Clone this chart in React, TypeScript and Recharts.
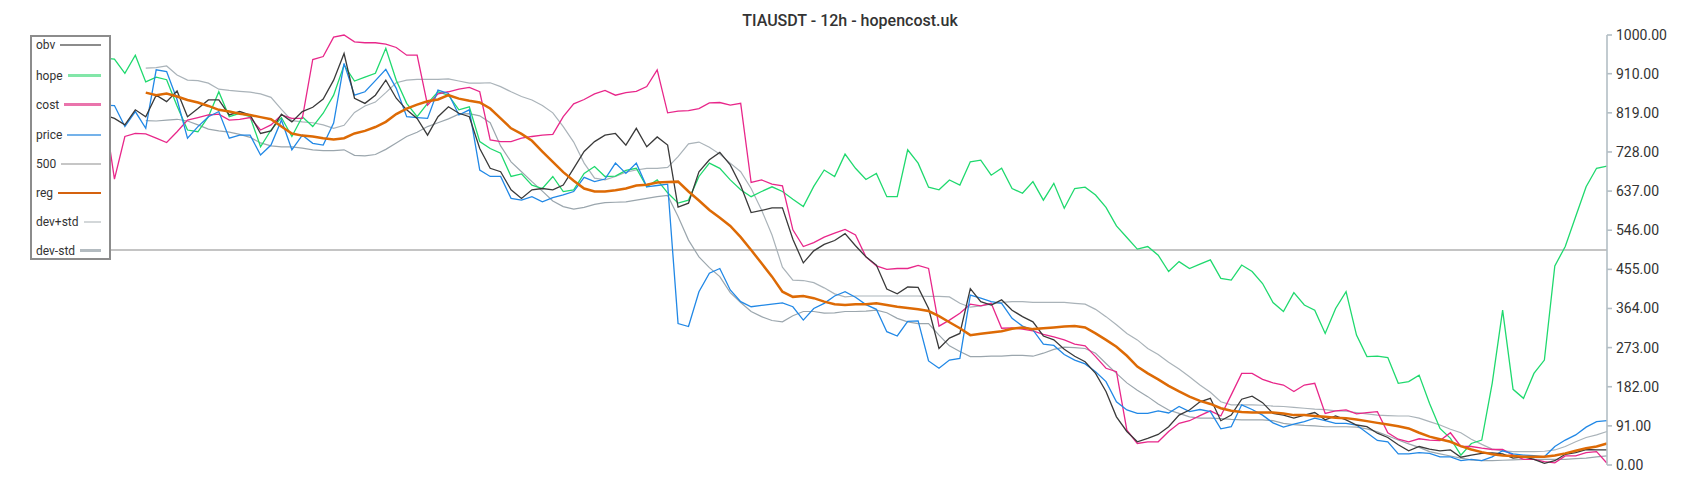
import React from "react";
import { LineChart, Line, XAxis, YAxis, ReferenceLine } from "recharts";

const TITLE = "TIAUSDT - 12h - hopencost.uk";
const LEVEL = 500;
const yTicks = [0, 91, 182, 273, 364, 455, 546, 637, 728, 819, 910, 1000];

const obv = [814,806,791,826,810,860,845,870,810,829,
849,849,814,822,814,771,777,816,798,822,
832,851,895,957,853,841,860,895,853,826,
806,767,810,833,818,810,736,690,682,640,
620,640,643,640,651,690,729,752,767,771,
744,783,740,763,744,600,609,682,710,727,
698,650,587,592,598,598,525,470,498,513,
522,538,510,484,465,409,398,414,413,364,
271,295,306,410,380,372,384,360,345,333,
300,291,269,253,240,213,171,112,78,54,
62,71,89,116,128,147,155,103,116,153,
160,145,120,116,109,116,122,105,114,105,
93,89,74,64,47,33,43,37,33,35,
18,23,27,28,26,16,19,13,4,10,
25,29,36,35,35];

const hope = [946,944,911,953,891,902,896,835,779,775,
810,868,810,818,810,740,779,808,764,810,
787,818,860,930,893,902,911,969,895,841,
810,841,868,860,826,833,752,736,725,671,
677,651,643,671,636,640,678,694,671,672,
685,690,647,663,633,609,616,671,702,690,
663,640,624,636,647,636,618,601,648,686,
671,723,690,664,678,624,624,733,702,646,
640,663,651,705,709,674,690,643,632,659,
616,655,597,643,646,628,599,556,529,502,
508,488,450,473,457,467,477,434,430,465,
450,422,378,357,401,372,360,306,364,403,
302,252,253,250,190,194,209,143,85,62,
23,50,58,190,360,176,155,213,244,463,
508,578,647,690,695];

const cost = [830,665,764,771,770,760,750,775,802,808,
814,816,802,804,808,779,791,814,806,806,
943,950,995,1000,984,982,982,979,971,953,
953,837,863,868,874,878,868,756,752,752,
760,764,767,769,810,840,850,863,871,860,
866,869,880,919,819,823,824,829,842,843,
837,841,657,663,653,649,547,508,517,530,
539,548,535,484,463,455,457,457,464,457,
323,337,353,374,370,376,318,319,316,312,
304,298,291,281,277,252,225,217,81,50,
54,54,78,97,103,115,126,114,163,213,
213,199,191,186,171,186,190,120,126,128,
119,122,124,75,60,54,61,58,57,75,
43,43,39,36,36,23,13,13,8,5,
21,21,29,31,4];

const price = [837,836,787,822,783,919,915,850,760,787,
810,822,760,767,767,721,744,802,733,767,
748,744,795,934,860,868,894,920,876,810,
808,806,872,864,814,826,686,671,671,620,
616,624,612,622,628,636,669,659,665,702,
678,702,647,650,653,329,322,403,446,457,
407,380,368,371,374,377,368,337,364,376,
393,403,390,373,362,310,300,334,335,242,
225,244,248,395,388,380,376,341,323,314,
281,278,257,244,235,217,194,147,128,120,
120,126,121,136,124,129,124,84,89,140,
129,116,98,88,95,101,109,103,97,97,
93,75,57,54,26,26,29,27,19,19,
10,13,10,19,33,26,23,22,19,43,
58,70,88,101,103];

const reg = [null,null,null,null,866,860,864,857,849,843,
835,826,822,817,814,809,804,787,771,766,
764,760,757,760,771,777,786,798,816,829,
838,846,850,860,852,847,843,829,806,783,
770,754,729,705,681,661,643,636,636,639,
643,650,652,657,658,659,636,615,593,575,
556,530,500,469,438,403,391,393,388,380,
374,372,374,374,376,372,368,365,362,358,
346,332,318,302,305,308,311,317,320,316,
318,320,322,323,320,306,291,275,254,229,
213,199,184,171,159,149,142,132,126,123,
122,122,122,120,116,116,114,112,110,109,
106,102,98,94,90,85,75,66,60,54,
44,36,30,25,22,21,19,19,19,22,
27,33,39,43,50];

const devPlus = [null,null,null,null,923,924,928,907,895,894,
888,874,871,869,867,863,855,827,801,798,
796,791,783,790,820,835,844,866,889,895,
897,897,897,898,893,888,888,889,880,868,
857,849,836,819,787,751,702,667,663,671,
681,686,690,690,692,717,747,751,739,723,
702,682,643,593,535,460,430,429,424,412,
398,391,393,393,393,393,393,393,393,392,
392,391,376,367,370,374,378,380,380,378,
378,378,378,376,374,362,345,326,306,291,
271,257,239,223,205,186,169,147,140,140,
140,139,137,136,134,132,130,129,126,125,
122,119,116,115,114,114,109,101,93,83,
75,60,48,37,33,31,31,31,32,35,
43,54,64,70,78];

const devMinus = [null,null,null,null,801,800,802,804,800,791,
781,777,774,769,762,749,742,740,740,737,
733,731,731,733,720,719,722,734,749,764,
774,787,796,805,816,817,812,796,742,705,
682,659,637,614,601,595,599,606,610,611,
612,616,620,624,627,578,523,484,459,438,
401,378,357,345,336,333,347,357,357,353,
354,357,357,358,360,354,341,333,329,329,
302,277,264,252,252,253,253,255,255,253,
260,269,274,273,271,260,236,213,191,174,
159,142,128,120,112,109,109,108,106,105,
105,105,103,97,94,92,91,89,89,89,
88,84,77,68,58,49,41,31,26,21,
16,12,10,10,11,12,13,13,13,13,
13,15,16,19,21];

const xIndex = obv.map((_, i) => i);

const data = xIndex.map((i) => ({
  i,
  obv: obv[i],
  hope: hope[i],
  cost: cost[i],
  price: price[i],
  reg: reg[i],
  devPlus: devPlus[i],
  devMinus: devMinus[i],
}));

const FONT = "Roboto, 'Noto Sans', sans-serif";

const legendItems = [
  { name: "obv", color: "#8c8c8c", top: 1 },
  { name: "hope", color: "#82e6a8", top: 31.7 },
  { name: "cost", color: "#ea74ac", top: 60.5 },
  { name: "price", color: "#74b2ea", top: 91 },
  { name: "500", color: "#c6c6c6", top: 120 },
  { name: "reg", color: "#d5620e", top: 149 },
  { name: "dev+std", color: "#d3d7d9", top: 178 },
  { name: "dev-std", color: "#b3bbc0", top: 206.7 },
];

export default function App() {
  return (
    <div style={{ position: "absolute", left: 0, top: 0, width: 1700, height: 500, background: "#fff", fontFamily: FONT }}>
      <div
        style={{
          position: "absolute",
          left: 0,
          top: 11,
          width: 1700,
          textAlign: "center",
          fontSize: 16,
          lineHeight: "20px",
          fontWeight: 500,
          color: "#333",
          fontFamily: FONT,
        }}
      >
        {TITLE}
      </div>
      <LineChart
        width={1700}
        height={500}
        data={data}
        margin={{ top: 35, right: 13, bottom: 35, left: 104 }}
      >
        <XAxis type="number" dataKey="i" domain={[0, 144]} hide />
        <YAxis
          orientation="right"
          domain={[0, 1000]}
          ticks={yTicks}
          interval={0}
          width={80}
          tickFormatter={(v: number) => v.toFixed(2)}
          axisLine={{ stroke: "#b3bec5", strokeWidth: 1.6 }}
          tickLine={{ stroke: "#b3bec5", strokeWidth: 1.6 }}
          tickSize={5}
          tickMargin={4}
          tick={{ fill: "#333", fontSize: 14, fontFamily: FONT }}
        />
        <ReferenceLine y={LEVEL} stroke="#c4c4c4" strokeWidth={2} />
        <Line type="linear" dataKey="devMinus" stroke="#9ba6ad" strokeWidth={1.2} dot={false} activeDot={false} isAnimationActive={false} />
        <Line type="linear" dataKey="devPlus" stroke="#aab3b9" strokeWidth={1.2} dot={false} activeDot={false} isAnimationActive={false} />
        <Line type="linear" dataKey="hope" stroke="#1fd96e" strokeWidth={1.3} dot={false} activeDot={false} isAnimationActive={false} />
        <Line type="linear" dataKey="cost" stroke="#e8278a" strokeWidth={1.3} dot={false} activeDot={false} isAnimationActive={false} />
        <Line type="linear" dataKey="price" stroke="#2188e6" strokeWidth={1.3} dot={false} activeDot={false} isAnimationActive={false} />
        <Line type="linear" dataKey="obv" stroke="#3a3a3a" strokeWidth={1.3} dot={false} activeDot={false} isAnimationActive={false} />
        <Line type="linear" dataKey="reg" stroke="#dd6a05" strokeWidth={2.5} dot={false} activeDot={false} isAnimationActive={false} />
      </LineChart>
      <div
        style={{
          position: "absolute",
          left: 30,
          top: 35,
          width: 81,
          height: 225,
          boxSizing: "border-box",
          border: "2px solid #8c8c8c",
          background: "#fff",
        }}
      >
        {legendItems.map((it) => (
          <div
            key={it.name}
            style={{
              position: "absolute",
              left: 4,
              top: it.top,
              width: 65,
              height: 14,
              display: "flex",
              alignItems: "center",
            }}
          >
            <span style={{ fontSize: 12, color: "#333", fontFamily: FONT, lineHeight: "14px", whiteSpace: "nowrap" }}>{it.name}</span>
            <span style={{ flex: 1, marginLeft: 5, height: 2.5, background: it.color }} />
          </div>
        ))}
      </div>
    </div>
  );
}
